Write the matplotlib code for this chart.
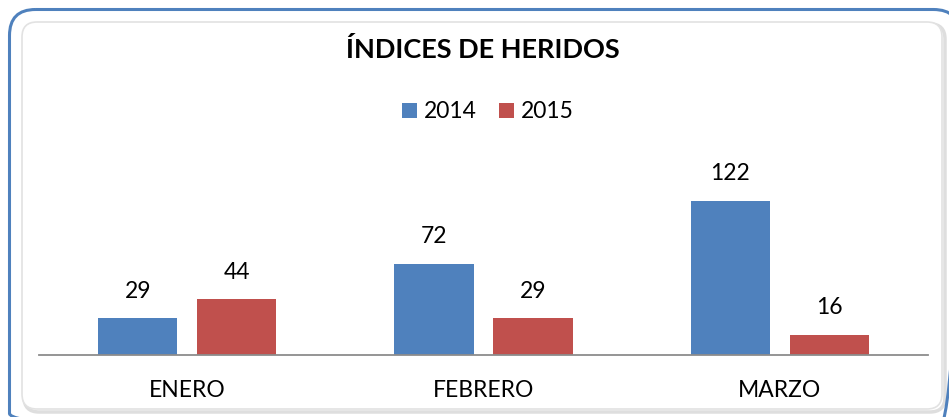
import matplotlib
matplotlib.use("Agg")
import matplotlib.pyplot as plt
from matplotlib.patches import FancyBboxPatch
import numpy as np

categories = ["ENERO", "FEBRERO", "MARZO"]
series_names = ["2014", "2015"]
values_2014 = [29, 72, 122]
values_2015 = [44, 29, 16]
title = "ÍNDICES DE HERIDOS"

c2014 = "#4F81BD"
c2015 = "#C0504D"
W, H = 949, 417
fig = plt.figure(figsize=(W / 100, H / 100), dpi=100)
plt.rcParams['font.family'] = ['Lato', 'DejaVu Sans']

# frame overlay
bg = fig.add_axes([0, 0, 1, 1])
bg.set_xlim(0, W)
bg.set_ylim(H, 0)
bg.axis("off")
bg.add_patch(FancyBboxPatch((24, 24), 921, 388, boxstyle="round,pad=0,rounding_size=15",
                            fc="none", ec="#c8c8c8", lw=2.5, alpha=0.6))
bg.add_patch(FancyBboxPatch((22, 22), 920, 387, boxstyle="round,pad=0,rounding_size=15",
                            fc="white", ec="#e2e2e2", lw=1.2))
bg.add_patch(FancyBboxPatch((9.5, 9.5), 950, 430, boxstyle="round,pad=0,rounding_size=26",
                            fc="none", ec="#4F81BD", lw=2.2, clip_on=True))

# plot axes: x 39..928, y 150..355 (pixels)
x0, x1 = 39, 928
ytop, ybot = 150, 355
ax = fig.add_axes([x0 / W, 1 - ybot / H, (x1 - x0) / W, (ybot - ytop) / H])
ax.patch.set_alpha(0)
ppu = 154 / 122.0
ax.set_ylim(0, (ybot - ytop) / ppu)
ax.set_xlim(-0.5, 2.5)
x = np.arange(len(categories))
bw = 0.267
off = 0.167
b1 = ax.bar(x - off, values_2014, bw, color=c2014, label=series_names[0])
b2 = ax.bar(x + off, values_2015, bw, color=c2015, label=series_names[1])
for bars, vals in ((b1, values_2014), (b2, values_2015)):
    for r, v in zip(bars, vals):
        ax.annotate(str(v), (r.get_x() + r.get_width() / 2, v), xytext=(0, 12),
                    textcoords="offset points", ha="center", va="bottom", fontsize=16.5, color="black")
for s in ["top", "right", "left"]:
    ax.spines[s].set_visible(False)
ax.spines["bottom"].set_color("#8c8c8c")
ax.spines["bottom"].set_linewidth(1.3)
ax.set_yticks([])
ax.set_xticks(x)
ax.set_xticklabels(categories, fontsize=16.5)
ax.tick_params(axis="x", length=0, pad=18)

fig.text(483 / W, 1 - 50 / H, title, ha="center", va="center", fontsize=19.5, fontweight="bold")
leg = fig.legend(handles=[b1, b2], labels=series_names, loc="center", bbox_to_anchor=(488 / W, 1 - 112 / H),
                 ncol=2, frameon=False, fontsize=16.5, handlelength=0.65, handleheight=0.65,
                 handletextpad=0.3, columnspacing=1.0)
fig.savefig("out.png", dpi=100)
